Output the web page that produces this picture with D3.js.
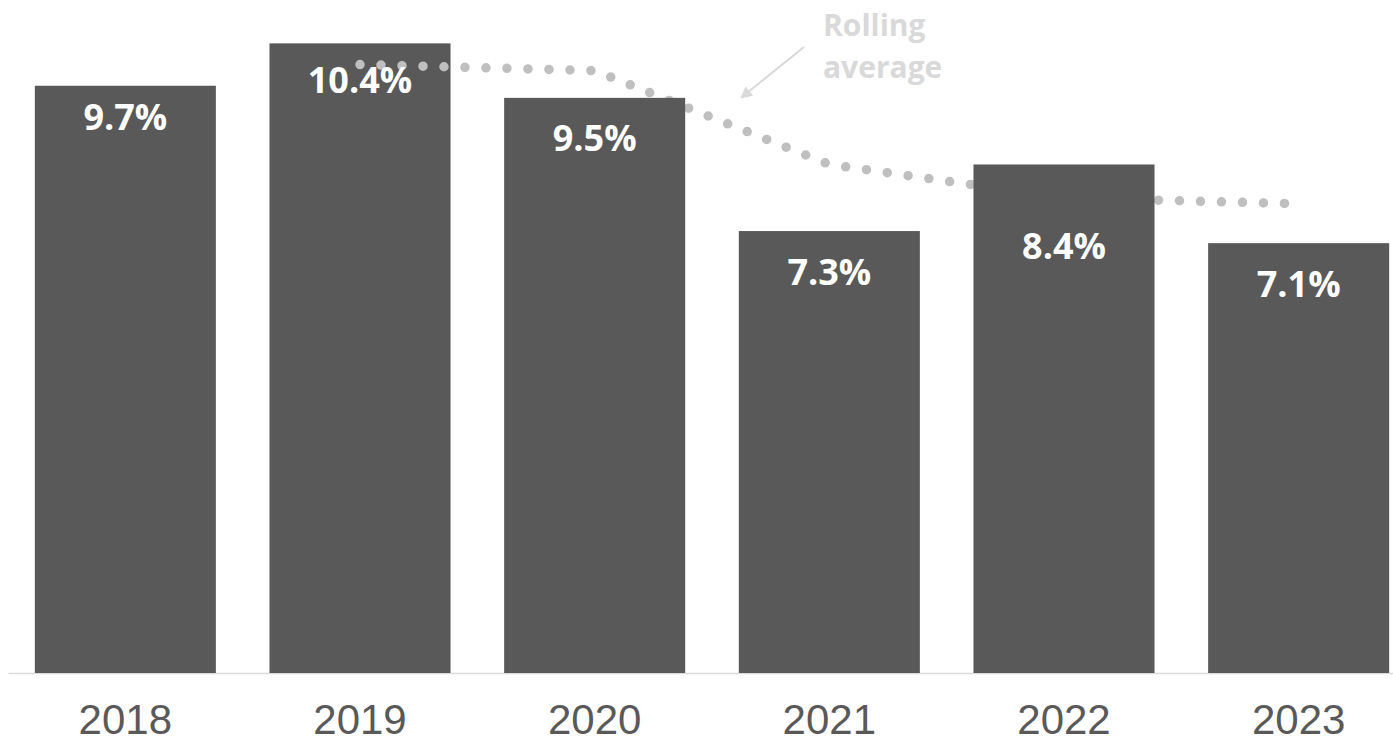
<!DOCTYPE html>
<html>
<head>
<meta charset="utf-8">
<script src="https://cdn.jsdelivr.net/npm/d3@7"></script>
<style>
  html, body { margin: 0; padding: 0; background: #ffffff; overflow: hidden; }
  svg { display: block; }
</style>
</head>
<body>
<svg id="chart" width="1393" height="742"></svg>
<script>
// Yearly rate (%) and its two-year rolling average
const years = ["2018", "2019", "2020", "2021", "2022", "2023"];
const rates = [9.7, 10.4, 9.5, 7.3, 8.4, 7.1];
const rollingYears = ["2019", "2020", "2021", "2022", "2023"];
const rollingValues = [10.05, 9.95, 8.4, 7.85, 7.75];
const annotationLines = ["Rolling", "average"];

// Distance from each bar top down to its value label baseline
const labelDrop = [44, 50, 53, 54, 95, 54];

const W = 1393, H = 742;
const baseY = 673;
const barColor = "#595959";
const trendColor = "#bfbfbf";
const noteColor = "#d9d9d9";

const svg = d3.select("#chart");

const x = d3.scaleBand()
  .domain(years)
  .range([8, 1416])
  .paddingInner(0.2285)
  .paddingOuter(0.1143);

const y = d3.scaleLinear()
  .domain([0, 11.1])
  .range([baseY, 1]);

const data = years.map((yr, i) => ({ year: yr, value: rates[i], drop: labelDrop[i] }));
const trend = rollingYears.map((yr, i) => ({ year: yr, value: rollingValues[i] }));

// Category axis: a thin light rule with large year labels
const axis = svg.append("g")
  .attr("transform", `translate(0,${baseY})`)
  .call(d3.axisBottom(x).tickSize(0).tickPadding(31));
axis.select(".domain")
  .attr("stroke", noteColor)
  .attr("stroke-width", 1.5);
axis.selectAll("text")
  .attr("fill", barColor)
  .style("font-family", "'Liberation Sans', Arial, sans-serif")
  .style("font-size", "42px");

// The trend line sits above the earlier bars and tucks behind the later ones
const lowerBars = svg.append("g");
const trendLayer = svg.append("g");
const upperBars = svg.append("g");

function drawBars(g, rows) {
  g.selectAll("rect")
    .data(rows)
    .join("rect")
    .attr("x", d => x(d.year))
    .attr("y", d => y(d.value))
    .attr("width", x.bandwidth())
    .attr("height", d => y(0) - y(d.value))
    .attr("fill", barColor);
}
drawBars(lowerBars, data.slice(0, 2));
drawBars(upperBars, data.slice(2));

const line = d3.line()
  .x(d => x(d.year) + x.bandwidth() / 2)
  .y(d => y(d.value));

trendLayer.append("path")
  .datum(trend)
  .attr("d", line)
  .attr("fill", "none")
  .attr("stroke", trendColor)
  .attr("stroke-width", 9.5)
  .attr("stroke-linecap", "round")
  .attr("stroke-dasharray", "0 21");

// Value labels inside the bars
svg.append("g")
  .selectAll("text")
  .data(data)
  .join("text")
  .attr("x", d => x(d.year) + x.bandwidth() / 2)
  .attr("y", d => y(d.value) + d.drop)
  .attr("text-anchor", "middle")
  .attr("fill", "#ffffff")
  .style("font-family", "'Open Sans', sans-serif")
  .style("font-weight", "700")
  .style("font-size", "36px")
  .text(d => d.value.toFixed(1) + "%");

// Annotation pointing at the trend line
const defs = svg.append("defs");
defs.append("marker")
  .attr("id", "arrowHead")
  .attr("viewBox", "0 0 10 10")
  .attr("refX", 8)
  .attr("refY", 5)
  .attr("markerWidth", 6)
  .attr("markerHeight", 6)
  .attr("orient", "auto")
  .append("path")
  .attr("d", "M0,0 L10,5 L0,10 Z")
  .attr("fill", noteColor);

const noteX = 823;
svg.append("line")
  .attr("x1", noteX - 19)
  .attr("y1", 47)
  .attr("x2", 742)
  .attr("y2", 97)
  .attr("stroke", noteColor)
  .attr("stroke-width", 2)
  .attr("marker-end", "url(#arrowHead)");

svg.append("text")
  .attr("x", noteX)
  .attr("y", 36)
  .attr("fill", noteColor)
  .style("font-family", "'Open Sans', sans-serif")
  .style("font-weight", "700")
  .style("font-size", "30px")
  .selectAll("tspan")
  .data(annotationLines)
  .join("tspan")
  .attr("x", noteX)
  .attr("dy", (d, i) => i === 0 ? 0 : 42)
  .text(d => d);
</script>
</body>
</html>
